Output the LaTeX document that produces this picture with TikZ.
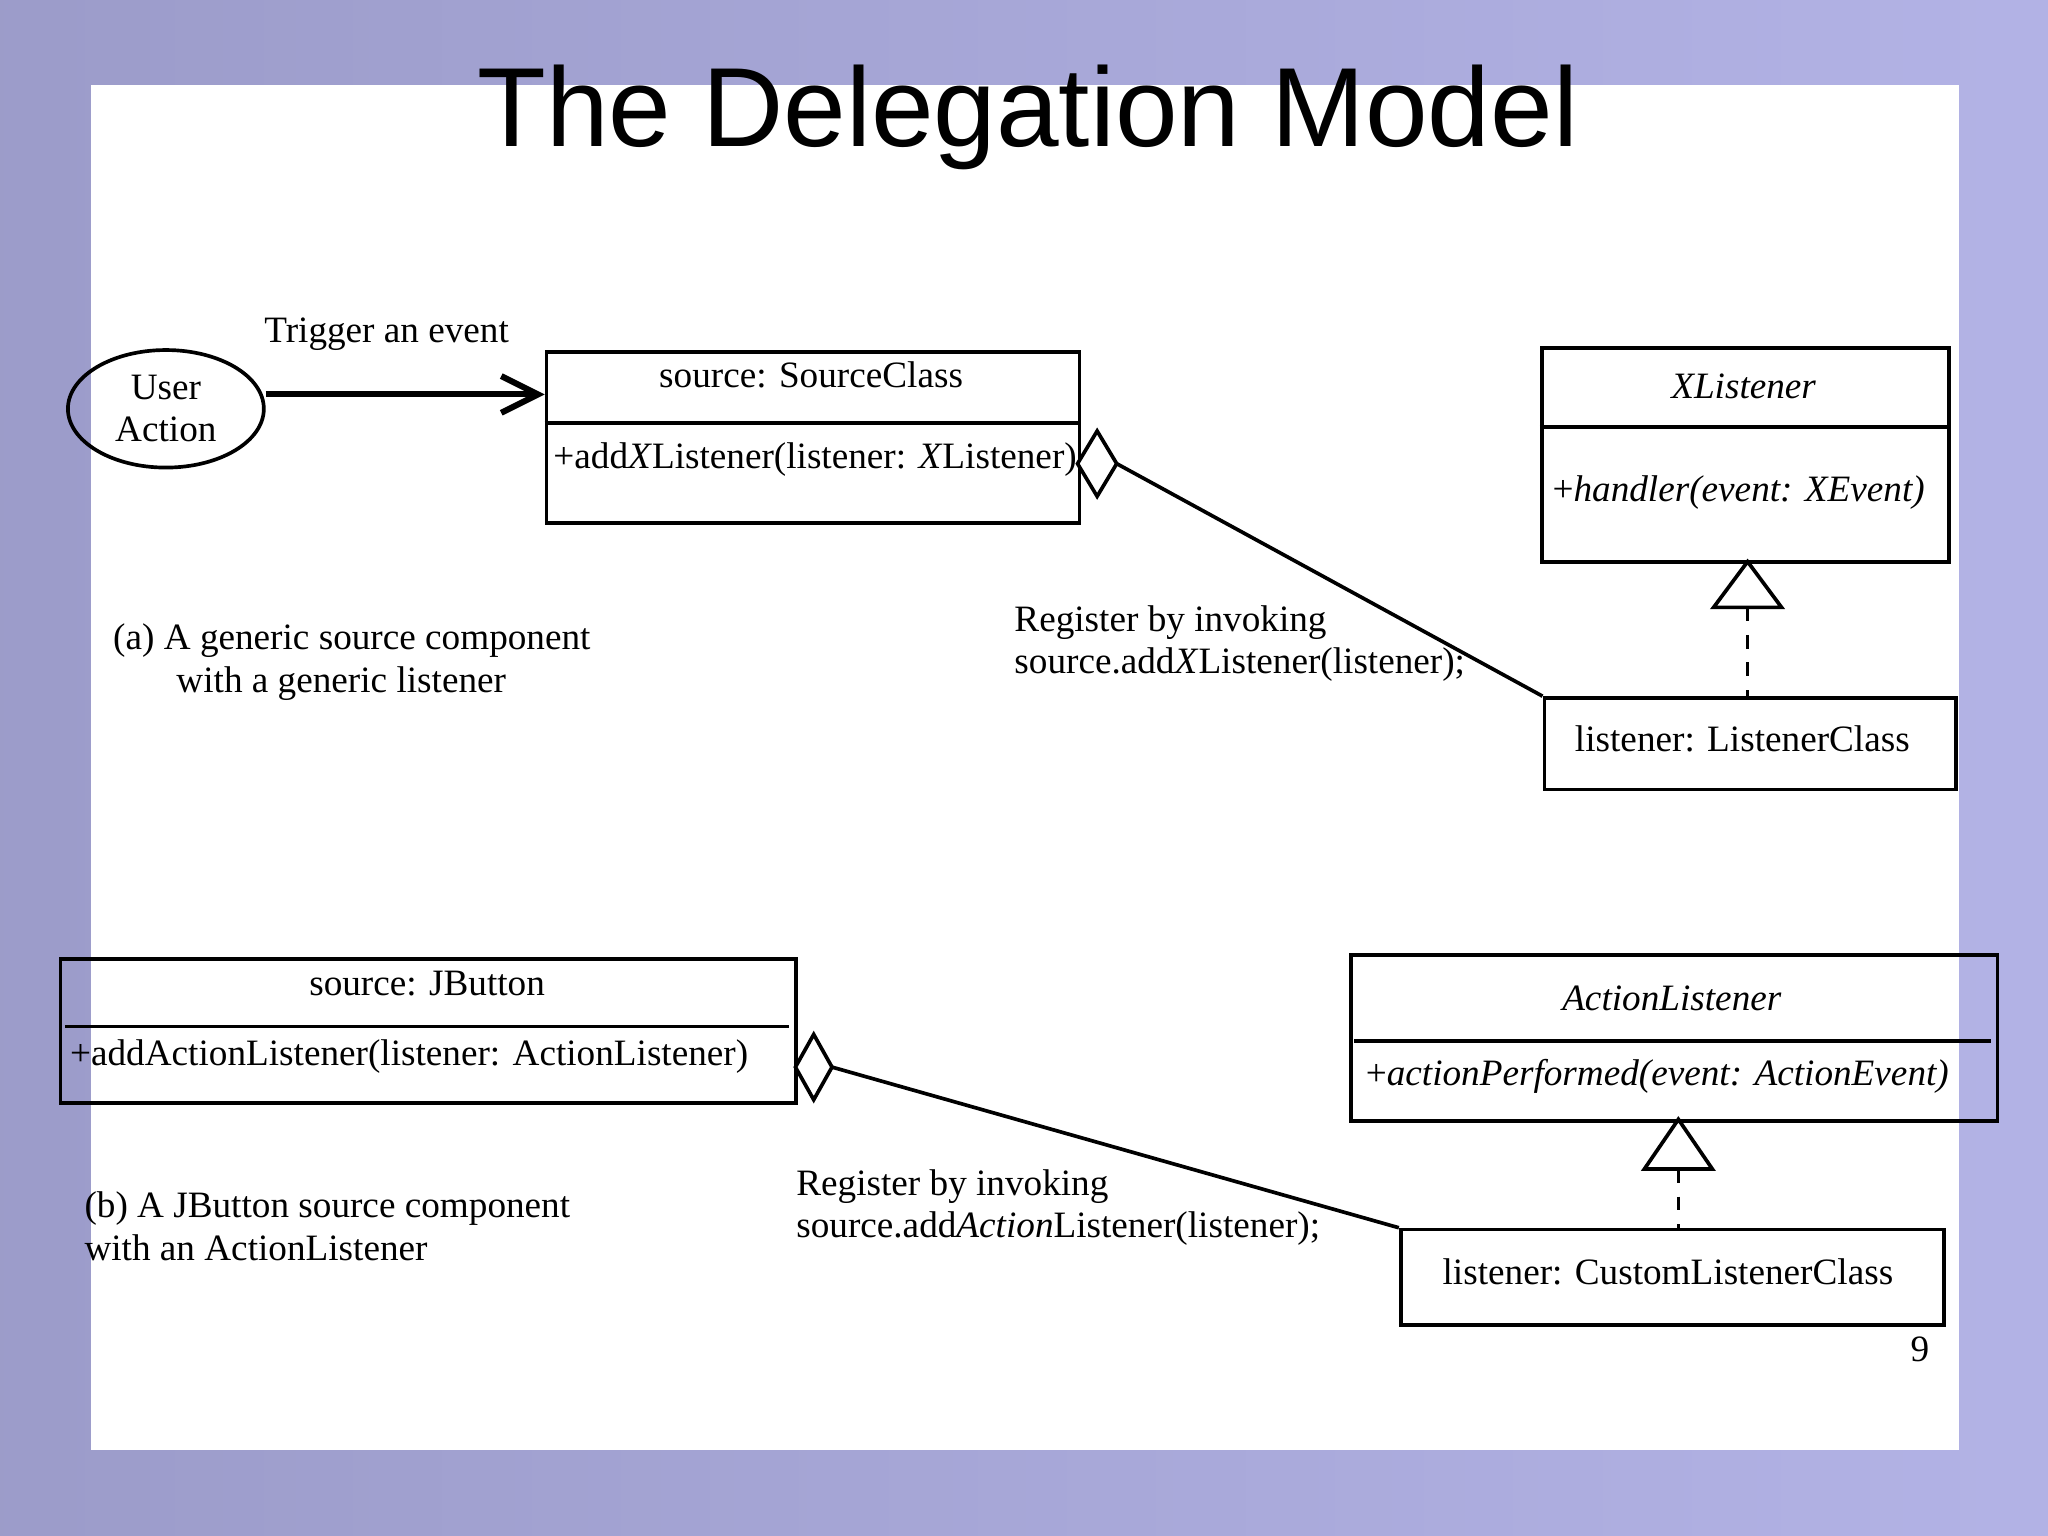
\documentclass[tikz,border=0pt]{standalone}
\usepackage{fontspec}
\setmainfont{Liberation Serif}
\newfontfamily\titlefont{Liberation Sans}
\usetikzlibrary{shapes.geometric,arrows.meta}
\begin{document}
\begin{tikzpicture}[x=0.01cm,y=-0.01cm,
 box/.style={draw,line width=0.8pt,inner sep=0,anchor=north west},
 txt/.style={font=\fontsize{8.1}{9.2}\selectfont,inner sep=0},
 ln/.style={line width=0.8pt}]
\useasboundingbox (0,0) rectangle (1568,1176);
\fill[left color=gray!70!blue!60, right color=gray!50!blue!40] (0,0) rectangle (1568,1176);
\fill[white] (70,65) rectangle (1500,1110);
\node[font=\titlefont\fontsize{24.5}{26}\selectfont] (title) at (787,90) {The Delegation Model};

\node[draw,ellipse,ln,minimum width=150*0.01cm,minimum height=90*0.01cm,txt,align=center] (ua) at (127,313) {User\\Action};
\node[box,minimum width=408*0.01cm,minimum height=131*0.01cm] (sc) at (417,268) {};
\draw[ln] (417,324) -- (825,324);
\node[txt] at (621,287) {source: SourceClass};
\node[txt,anchor=west] at (423,352) {+add\textit{X}Listener(listener: \textit{X}Listener)};
\draw[line width=1.3pt,-{Straight Barb[length=8pt,width=8pt]}] (ua.east|-0,302) -- (sc.west|-0,302);
\node[txt] at (296,256) {Trigger an event};

\node[box,minimum width=312*0.01cm,minimum height=164*0.01cm] (xl) at (1179,265) {};
\draw[ln] (1179,327) -- (1491,327);
\node[txt] at (1335,296) {\textit{XListener}};
\node[txt,anchor=west] at (1188,377) {+\textit{handler(event: XEvent)}};
\node[box,minimum width=315*0.01cm,minimum height=70*0.01cm,txt] (lc) at (1181,533) {};
\node[txt] at (1334,566) {listener: ListenerClass};
\draw[ln,fill=white] (825,355) -- (840,330) -- (855,355) -- (840,380) -- cycle;
\coordinate (d1) at (855,355);
\draw[ln] (d1) -- (lc.north west);
\draw[ln,fill=white] (1338,430) -- (1364,465) -- (1312,465) -- cycle;
\coordinate (t1) at (1338,465);
\draw[ln,dashed] (t1) -- (1338,533);
\node[txt,align=left,anchor=north west] at (776,463) {Register by invoking\\source.add\textit{X}Listener(listener);};
\node[txt,align=left,anchor=north west] at (86,477) {(a) A generic source component\\\hspace{1.7em}with a generic listener};

\node[box,minimum width=563*0.01cm,minimum height=110*0.01cm] (jb) at (45,733) {};
\draw[ln] (50,786) -- (604,786);
\node[txt] at (327,753) {source: JButton};
\node[txt,anchor=west] at (53,809) {+addActionListener(listener: ActionListener)};
\node[box,minimum width=495*0.01cm,minimum height=127*0.01cm] (al) at (1033,730) {};
\draw[ln] (1037,797) -- (1524,797);
\node[txt] at (1280,764) {\textit{ActionListener}};
\node[txt,anchor=west] at (1045,824) {+\textit{actionPerformed(event: ActionEvent)}};
\node[box,minimum width=416*0.01cm,minimum height=73*0.01cm] (cl) at (1071,940) {};
\node[txt] at (1277,974) {listener: CustomListenerClass};
\draw[ln,fill=white] (609,817) -- (623,792) -- (637,817) -- (623,842) -- cycle;
\coordinate (d2) at (637,817);
\draw[ln] (d2) -- (cl.north west);
\draw[ln,fill=white] (1285,857) -- (1311,895) -- (1259,895) -- cycle;
\coordinate (t2) at (1285,895);
\draw[ln,dashed] (t2) -- (1285,940);
\node[txt,align=left,anchor=north west] at (609,895) {Register by invoking\\source.add\textit{Action}Listener(listener);};
\node[txt,align=left,anchor=north west] at (64,912) {(b) A JButton source component\\with an ActionListener};
\node[txt] at (1470,1033) {9};
\end{tikzpicture}
\end{document}
